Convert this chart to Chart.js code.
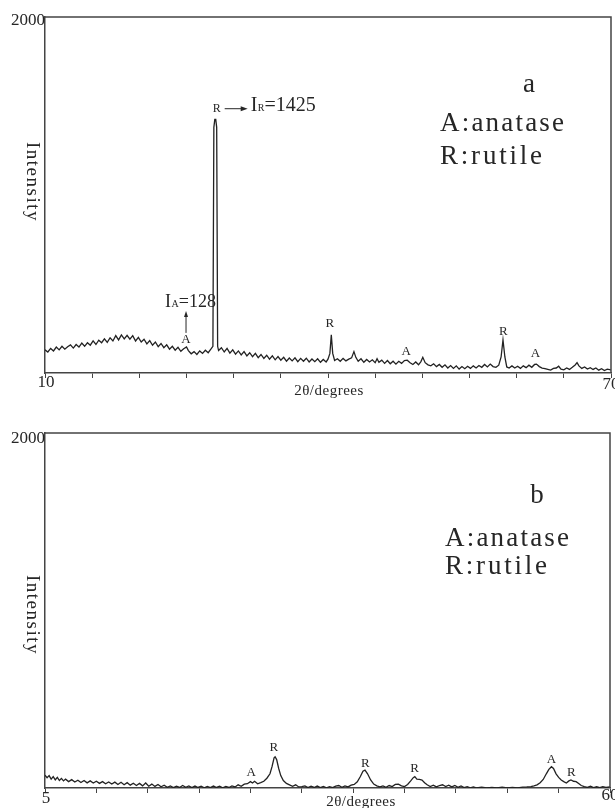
<!DOCTYPE html>
<html>
<head>
<meta charset="utf-8">
<script src="https://cdn.jsdelivr.net/npm/chart.js@4.4.1/dist/chart.umd.min.js"></script>
<style>
  html, body { margin: 0; padding: 0; background: #fff; }
  #wrap { position: relative; width: 615px; height: 808px; overflow: hidden; }
  canvas { position: absolute; left: 0; }
  #chartA { top: 0; }
  #chartB { top: 404px; }
</style>
</head>
<body>
<div id="wrap">
  <canvas id="chartA" width="615" height="404"></canvas>
  <canvas id="chartB" width="615" height="404"></canvas>
</div>
<script>
// panel a: 2theta (deg) and intensity
const angleA = [
  10.0,10.3,10.6,10.9,11.2,11.5,11.8,12.1,12.4,12.7,13.0,13.3,13.6,13.9,14.2,14.5,14.8,15.1,15.4,15.7,
  16.0,16.3,16.6,16.9,17.2,17.5,17.8,18.1,18.4,18.7,19.0,19.3,19.6,19.9,20.2,20.5,20.8,21.1,21.4,21.7,
  22.0,22.3,22.6,22.9,23.2,23.5,23.8,24.1,24.4,24.7,25.0,25.2,25.5,25.8,26.1,26.4,26.7,27.0,27.3,27.6,
  27.8,27.9,28.0,28.1,28.2,28.3,28.4,28.7,29.0,29.3,29.6,29.9,30.2,30.5,30.8,31.1,31.4,31.7,32.0,32.3,
  32.6,32.9,33.2,33.5,33.8,34.1,34.4,34.7,35.0,35.3,35.6,35.9,36.2,36.5,36.8,37.1,37.4,37.7,38.0,38.3,
  38.6,38.9,39.2,39.5,39.8,40.0,40.2,40.35,40.5,40.7,41.0,41.3,41.6,41.9,42.2,42.5,42.75,42.95,43.2,43.5,
  43.8,44.1,44.4,44.7,45.0,45.2,45.4,45.7,46.0,46.3,46.6,46.9,47.2,47.5,47.8,48.1,48.4,48.7,49.0,49.3,
  49.6,49.85,50.05,50.3,50.6,50.9,51.2,51.5,51.8,52.1,52.4,52.7,53.0,53.3,53.6,53.9,54.2,54.5,54.8,55.1,
  55.4,55.7,56.0,56.3,56.6,56.9,57.2,57.5,57.8,58.1,58.35,58.55,58.75,58.95,59.2,59.5,59.8,60.1,60.4,60.7,
  61.0,61.3,61.6,61.9,62.1,62.4,62.7,63.0,63.3,63.6,63.9,64.2,64.45,64.7,65.0,65.3,65.6,65.9,66.2,66.4,
  66.6,66.9,67.2,67.5,67.8,68.1,68.4,68.7,69.0,69.3,69.6,70.0
];
const intensityA = [
  130,118,138,124,146,130,150,134,148,158,140,160,146,168,150,170,156,180,160,184,
  170,192,172,198,180,210,186,214,192,212,190,210,180,200,174,190,164,182,156,174,
  148,166,142,158,134,150,128,144,122,136,146,126,108,120,104,124,110,128,114,135,
  150,1380,1425,1425,1380,150,126,142,118,138,112,130,106,124,102,120,96,114,92,110,
  86,104,82,100,78,96,74,92,72,88,66,84,68,85,64,82,66,83,62,79,
  64,80,60,76,62,78,110,214,110,70,80,66,82,68,78,85,120,88,66,80,
  60,76,62,74,58,80,60,72,54,70,52,66,50,66,54,70,72,58,48,62,
  46,64,88,58,46,40,52,36,48,32,46,28,42,26,40,22,36,24,38,26,
  40,28,42,32,48,34,50,36,32,44,90,186,90,34,28,40,28,38,26,40,
  30,44,32,48,50,36,28,24,20,16,26,28,38,22,18,28,20,32,45,58,
  40,26,34,22,30,20,28,16,24,14,22,17
];

// panel b
const angleB = [
  5.0,5.2,5.4,5.6,5.8,6.0,6.2,6.4,6.6,6.8,7.0,7.3,7.6,7.9,8.2,8.5,8.8,9.1,9.4,9.7,
  10.0,10.3,10.6,10.9,11.2,11.5,11.8,12.1,12.4,12.7,13.0,13.3,13.6,13.9,14.2,14.5,14.8,15.1,15.4,15.7,
  16.0,16.3,16.6,16.9,17.2,17.5,17.8,18.1,18.4,18.7,19.0,19.3,19.6,19.9,20.2,20.5,20.8,21.1,21.4,21.7,
  22.0,22.3,22.6,22.9,23.2,23.5,23.8,24.1,24.4,24.7,25.0,25.2,25.4,25.7,26.0,26.3,26.6,26.9,27.1,27.3,
  27.4,27.55,27.75,27.95,28.2,28.5,28.8,29.1,29.4,29.7,30.0,30.3,30.6,30.9,31.2,31.5,31.8,32.1,32.4,32.7,
  33.0,33.3,33.6,33.9,34.2,34.5,34.8,35.1,35.4,35.7,35.95,36.15,36.4,36.7,37.0,37.3,37.6,37.9,38.2,38.5,
  38.8,39.1,39.4,39.7,40.0,40.3,40.6,40.85,41.0,41.2,41.45,41.7,41.95,42.2,42.5,42.8,43.1,43.4,43.7,44.0,
  44.3,44.6,44.9,45.2,45.5,45.8,46.1,46.4,46.7,47.0,47.5,48.0,48.5,49.0,49.5,50.0,50.5,51.0,51.5,51.9,
  52.3,52.6,52.9,53.2,53.5,53.8,54.05,54.3,54.5,54.75,55.0,55.25,55.5,55.75,56.0,56.2,56.45,56.7,56.95,57.2,
  57.5,57.8,58.1,58.4,58.7,59.0,59.3,59.6,60.0
];
const intensityB = [
  72,58,70,50,64,46,60,42,54,40,50,36,47,34,44,31,42,29,40,28,
  38,26,36,24,34,22,33,20,32,18,30,16,27,14,26,12,28,10,22,9,
  20,7,16,4,12,2,10,3,14,4,12,2,11,3,10,1,9,2,11,3,
  10,1,9,3,12,6,18,10,22,24,36,28,38,24,30,38,55,80,120,170,
  176,160,110,70,42,26,18,10,18,6,8,12,2,10,3,11,2,9,1,8,
  2,10,14,4,12,6,16,20,35,65,95,101,80,45,22,12,6,12,4,14,
  8,20,22,12,8,20,40,58,64,50,48,45,30,18,8,16,6,14,18,8,
  16,6,14,4,12,2,8,1,6,1,5,0,4,0,5,1,4,0,5,6,
  8,12,18,30,48,80,105,120,110,80,60,45,36,28,40,45,38,36,25,14,
  8,3,10,2,7,2,8,3,6
];

// peak letters: text, angle, intensity level of the letter
const peakTextA  = ['A', 'R', 'A', 'R', 'A'];
const peakAngleA = [24.95, 40.2, 48.3, 58.6, 62.0];
const peakLevelA = [186, 279, 118, 231, 107];

const peakTextB  = ['A', 'R', 'R', 'R', 'A', 'R'];
const peakAngleB = [25.08, 27.28, 36.18, 40.98, 54.29, 56.24];
const peakLevelB = [85, 225, 138, 107, 161, 87];

const SERIF = '"Liberation Serif", "Times New Roman", serif';
const INK = '#262626';

function txt(ctx, s, x, y, size, align, spacing){
  ctx.font = size + 'px ' + SERIF;
  ctx.textAlign = align || 'center';
  ctx.letterSpacing = (spacing || 0) + 'px';
  ctx.fillText(s, x, y);
  ctx.letterSpacing = '0px';
}

// I + subscript + rest, left aligned, alphabetic baseline
function subLabel(ctx, main, sub, rest, x, y, size){
  ctx.textBaseline = 'alphabetic';
  ctx.textAlign = 'left';
  ctx.font = size + 'px ' + SERIF;
  ctx.fillText(main, x, y);
  x += ctx.measureText(main).width + 0.5;
  ctx.font = '10px ' + SERIF;
  ctx.fillText(sub, x, y);
  x += ctx.measureText(sub).width;
  ctx.font = size + 'px ' + SERIF;
  ctx.fillText(rest, x, y);
}

const xrdDecor = {
  id: 'xrdDecor',
  afterDraw(chart, args, o){
    const {ctx, chartArea: a, scales: {x, y}} = chart;
    ctx.save();
    // top and right of the frame
    ctx.strokeStyle = '#444';
    ctx.lineWidth = 1.5;
    ctx.beginPath();
    ctx.moveTo(a.left, a.top);
    ctx.lineTo(a.right, a.top);
    ctx.lineTo(a.right, a.bottom);
    ctx.stroke();

    ctx.fillStyle = INK;
    ctx.strokeStyle = INK;
    ctx.textBaseline = 'middle';
    // axis numbers
    txt(ctx, '2000', a.left, y.getPixelForValue(2000) + o.topNumDy, 17, 'right');
    txt(ctx, String(x.min), x.getPixelForValue(x.min) + 1, a.bottom + o.minNumDy, 17);
    txt(ctx, String(x.max), x.getPixelForValue(x.max), a.bottom + o.maxNumDy, 17);
    txt(ctx, '2θ/degrees', o.titleX, a.bottom + o.titleDy, 15, 'center', 0.5);

    // rotated y title
    ctx.save();
    ctx.translate(a.left - 13, o.yTitleY);
    ctx.rotate(Math.PI / 2);
    txt(ctx, 'Intensity', 0, 0, 19, 'center', 1.5);
    ctx.restore();

    // panel letter and key
    ctx.textBaseline = 'alphabetic';
    txt(ctx, o.letter, o.letterX, o.letterBase, 27);
    txt(ctx, 'A:anatase', o.keyX, o.keyBase, 27, 'left', 2.2);
    txt(ctx, 'R:rutile', o.keyX, o.keyBase + o.keyGap, 27, 'left', 2.8);

    // peak letters
    ctx.textBaseline = 'middle';
    o.texts.forEach((t, i) => {
      txt(ctx, t, x.getPixelForValue(o.angles[i]), y.getPixelForValue(o.levels[i]), 13);
    });

    if (o.callouts) {
      // I_A=128 arrow above the first anatase letter
      const ax = x.getPixelForValue(o.angles[0]);
      const ay = y.getPixelForValue(o.levels[0]);
      ctx.lineWidth = 1;
      ctx.beginPath();
      ctx.moveTo(ax, ay - 7);
      ctx.lineTo(ax, ay - 26);
      ctx.stroke();
      ctx.beginPath();
      ctx.moveTo(ax, ay - 29);
      ctx.lineTo(ax - 2, ay - 23);
      ctx.lineTo(ax + 2, ay - 23);
      ctx.closePath();
      ctx.fill();
      subLabel(ctx, 'I', 'A', '=128', ax - 21, ay - 33, 18);

      // R -> I_R=1425 at the strong rutile line
      const rx = x.getPixelForValue(28.2);
      const ry = y.getPixelForValue(1482);
      ctx.textBaseline = 'middle';
      txt(ctx, 'R', rx, ry, 12);
      ctx.beginPath();
      ctx.moveTo(rx + 8, ry - 0.5);
      ctx.lineTo(rx + 26, ry - 0.5);
      ctx.stroke();
      ctx.beginPath();
      ctx.moveTo(rx + 31, ry - 0.5);
      ctx.lineTo(rx + 24, ry - 3);
      ctx.lineTo(rx + 24, ry + 2);
      ctx.closePath();
      ctx.fill();
      subLabel(ctx, 'I', 'R', '=1425', rx + 34, ry + 2, 20);
    }
    ctx.restore();
  }
};

function makeChart(id, angles, values, xMin, xMax, pad, decor){
  return new Chart(document.getElementById(id), {
    type: 'line',
    data: {
      datasets: [{
        data: angles.map((a, i) => ({x: a, y: values[i]})),
        borderColor: '#222',
        borderWidth: 1.3,
        pointRadius: 0,
        tension: 0
      }]
    },
    options: {
      responsive: false,
      animation: false,
      events: [],
      layout: {padding: pad},
      plugins: {legend: {display: false}, tooltip: {enabled: false}, xrdDecor: decor},
      scales: {
        x: {
          type: 'linear', min: xMin, max: xMax,
          ticks: {display: false, stepSize: 5},
          grid: {display: true, drawOnChartArea: false, drawTicks: true, tickLength: 5, color: '#444', lineWidth: 1},
          border: {color: '#444', width: 1.5}
        },
        y: {
          min: 0, max: 2000,
          ticks: {display: false},
          grid: {display: false, drawTicks: false},
          border: {color: '#444', width: 1.5}
        }
      }
    },
    plugins: [xrdDecor]
  });
}

makeChart('chartA', angleA, intensityA, 10, 70, {top: 17, left: 45, right: 4, bottom: 26}, {
  letter: 'a', letterX: 529, letterBase: 92, keyX: 440, keyBase: 131, keyGap: 33,
  topNumDy: 4, minNumDy: 10, maxNumDy: 12, titleX: 329, titleDy: 18, yTitleY: 182,
  texts: peakTextA, angles: peakAngleA, levels: peakLevelA, callouts: true
});

makeChart('chartB', angleB, intensityB, 5, 60, {top: 29, left: 45, right: 5, bottom: 15}, {
  letter: 'b', letterX: 537, letterBase: 99, keyX: 445, keyBase: 142, keyGap: 28,
  topNumDy: 6, minNumDy: 11, maxNumDy: 8, titleX: 361, titleDy: 14, yTitleY: 211,
  texts: peakTextB, angles: peakAngleB, levels: peakLevelB, callouts: false
});
</script>
</body>
</html>
